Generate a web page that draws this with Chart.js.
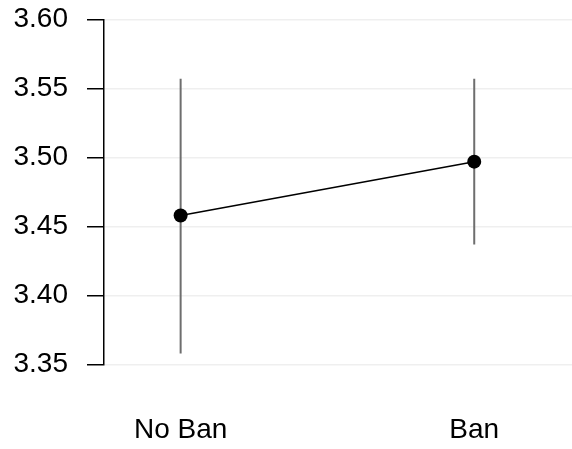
<!DOCTYPE html>
<html>
<head>
<meta charset="utf-8">
<script src="https://cdn.jsdelivr.net/npm/chart.js@4"></script>
<style>
    html, body { margin: 0; padding: 0; background: #FFFFFF; }
    #wrap { width: 572px; height: 449px; }
</style>
</head>
<body>
<div id="wrap"><canvas id="main-chart"></canvas></div>
<script>
// groups on the x axis (placed at 1, 2)
const categories = ['No Ban', 'Ban'];
const means = [3.458, 3.497];
const lower = [3.358, 3.437];
const upper = [3.557, 3.557];
const yTicks = [3.35, 3.40, 3.45, 3.50, 3.55, 3.60];

const positions = categories.map((c, i) => i + 1);

// one small line dataset per error bar
const errorBars = categories.map((c, i) => ({
    label: c + ' interval',
    data: [{ x: positions[i], y: lower[i] }, { x: positions[i], y: upper[i] }],
    borderColor: '#6E6E6E',
    borderWidth: 2,
    pointRadius: 0,
    fill: false,
    order: 2
}));

const ctx = document.getElementById('main-chart').getContext('2d');

new Chart(ctx, {
    type: 'line',
    data: {
        datasets: [{
            label: 'Mean',
            data: positions.map((x, i) => ({ x: x, y: means[i] })),
            borderColor: '#000000',
            backgroundColor: '#000000',
            borderWidth: 1.5,
            pointRadius: 7,
            pointBackgroundColor: '#000000',
            pointBorderWidth: 0,
            fill: false,
            order: 1
        }, ...errorBars]
    },
    options: {
        responsive: true,
        maintainAspectRatio: false,
        animation: false,
        layout: {
            autoPadding: false,
            padding: { top: 19.5, right: 0, bottom: 0, left: 0 }
        },
        plugins: {
            legend: { display: false },
            tooltip: { enabled: false }
        },
        scales: {
            x: {
                type: 'linear',
                min: 0.739,
                max: 2.333,
                border: { display: false },
                grid: { display: false, drawTicks: false },
                afterBuildTicks: (scale) => {
                    scale.ticks = positions.map(v => ({ value: v }));
                },
                afterFit: (scale) => {
                    // Chart.js reserves padding twice; keep the axis band tight
                    scale.height = 84.5;
                    scale.paddingLeft = 0;
                    scale.paddingRight = 0;
                },
                ticks: {
                    padding: 49,
                    color: '#000000',
                    font: { family: 'Liberation Sans', size: 28 },
                    callback: (value) => categories[value - 1] || ''
                }
            },
            y: {
                type: 'linear',
                min: 3.35,
                max: 3.60,
                border: { display: true, color: '#000000', width: 1.5 },
                grid: {
                    color: '#EFEFEF',
                    lineWidth: 1.5,
                    tickColor: '#000000',
                    tickLength: 17,
                    tickWidth: 1.5
                },
                afterBuildTicks: (scale) => {
                    scale.ticks = yTicks.map(v => ({ value: v }));
                },
                afterFit: (scale) => {
                    scale.width = 104;
                    scale.paddingTop = 0;
                    scale.paddingBottom = 0;
                },
                ticks: {
                    padding: 19,
                    color: '#000000',
                    font: { family: 'Liberation Sans', size: 28 },
                    callback: (value) => value.toFixed(2)
                }
            }
        }
    }
});
</script>
</body>
</html>
